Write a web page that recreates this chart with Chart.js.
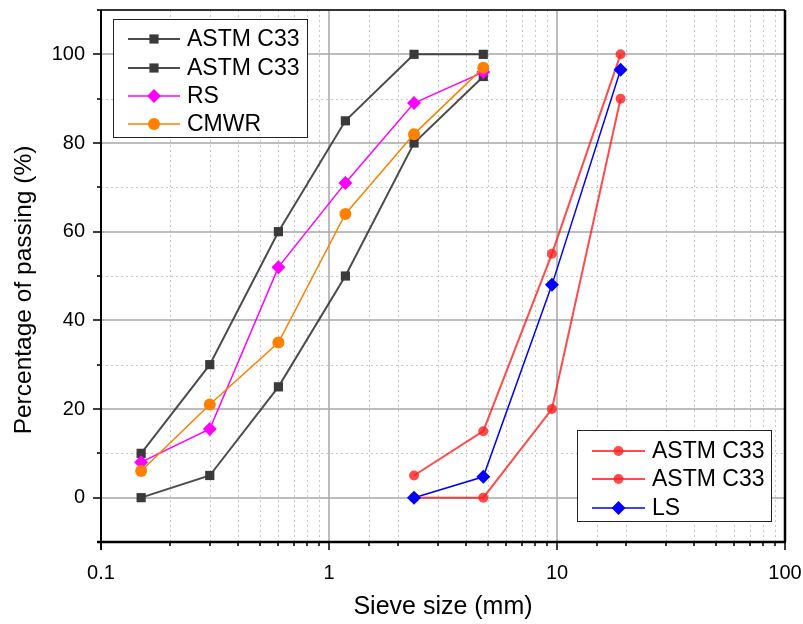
<!DOCTYPE html>
<html>
<head>
<meta charset="utf-8">
<script src="https://cdn.jsdelivr.net/npm/chart.js@4.4.0/dist/chart.umd.min.js"></script>
<style>
  html, body { margin: 0; padding: 0; background: #fff; }
  #wrap { width: 803px; height: 624px; }
</style>
</head>
<body>
<div id="wrap"><canvas id="chart" width="803" height="624"></canvas></div>
<script>
// sieve sizes (mm)
const fineSieves = [0.15, 0.3, 0.6, 1.18, 2.36, 4.75];
const coarseSieves = [2.36, 4.75, 9.5, 19];

// percentage passing
const astmFineUpper = [10, 30, 60, 85, 100, 100];
const astmFineLower = [0, 5, 25, 50, 80, 95];
const rsPassing = [8, 15.5, 52, 71, 89, 96];
const cmwrPassing = [6, 21, 35, 64, 82, 97];
const astmCoarseUpper = [5, 15, 55, 100];
const astmCoarseLower = [0, 0, 20, 90];
const lsPassing = [0, 4.7, 48, 96.5];

const xTickLabels = [0.1, 1, 10, 100];
const yTickLabels = [0, 20, 40, 60, 80, 100];

const FONT = '"Liberation Sans", Arial, sans-serif';
const Y_TITLE = 'Percentage of passing (%)';

function pairs(xs, ys) {
  return xs.map((x, i) => ({ x: x, y: ys[i] }));
}

function isDecade(v) {
  const l = Math.log10(v);
  return Math.abs(l - Math.round(l)) < 1e-6;
}

const gray = 'rgba(45,45,45,0.85)';
const red = 'rgba(255,30,30,0.8)';

const datasets = [
  { label: 'ASTM C33', data: pairs(fineSieves, astmFineUpper), borderColor: gray, backgroundColor: '#3a3a3a',
    pointStyle: 'rect', pointRadius: 6.5, borderWidth: 2 },
  { label: 'ASTM C33', data: pairs(fineSieves, astmFineLower), borderColor: gray, backgroundColor: '#3a3a3a',
    pointStyle: 'rect', pointRadius: 6.5, borderWidth: 2 },
  { label: 'RS', data: pairs(fineSieves, rsPassing), borderColor: '#ff00ff', backgroundColor: '#ff00ff',
    pointStyle: 'rectRot', pointRadius: 7, borderWidth: 1.5 },
  { label: 'CMWR', data: pairs(fineSieves, cmwrPassing), borderColor: '#ff8000', backgroundColor: '#ff8000',
    pointStyle: 'circle', pointRadius: 6, borderWidth: 1.5 },
  { label: 'ASTM C33', data: pairs(coarseSieves, astmCoarseUpper), borderColor: red, backgroundColor: red,
    pointStyle: 'circle', pointRadius: 5, borderWidth: 2 },
  { label: 'ASTM C33', data: pairs(coarseSieves, astmCoarseLower), borderColor: red, backgroundColor: red,
    pointStyle: 'circle', pointRadius: 5, borderWidth: 2 },
  { label: 'LS', data: pairs(coarseSieves, lsPassing), borderColor: '#0000ff', backgroundColor: '#0000ff',
    pointStyle: 'rectRot', pointRadius: 7, borderWidth: 1.5 }
].map((d, i) => Object.assign(d, {
  showLine: true, tension: 0, pointBorderWidth: 0, pointHoverRadius: d.pointRadius, order: -i
}));

const legendBoxes = [
  { items: [0, 1, 2, 3], x: 113, y: 19, w: 194, h: 118, rows: [39, 68, 96, 124], line: [128, 180], textX: 187 },
  { items: [4, 5, 6], x: 577, y: 430, w: 194, h: 91, rows: [451, 479, 508], line: [592, 645], textX: 652 }
];

const framePlugin = {
  id: 'frame',
  beforeDatasetsDraw(chart) {
    const { ctx, chartArea: a, scales: { x, y } } = chart;
    ctx.save();
    // minor grid (dotted)
    ctx.lineWidth = 1;
    ctx.strokeStyle = '#c8c8c8';
    ctx.setLineDash([2, 3]);
    ctx.beginPath();
    x.ticks.forEach(t => {
      if (isDecade(t.value)) return;
      const px = Math.round(x.getPixelForValue(t.value)) + 0.5;
      ctx.moveTo(px, a.top); ctx.lineTo(px, a.bottom);
    });
    y.ticks.forEach(t => {
      if (t.value % 20 === 0 || t.value <= -10 || t.value >= 110) return;
      const py = Math.round(y.getPixelForValue(t.value)) + 0.5;
      ctx.moveTo(a.left, py); ctx.lineTo(a.right, py);
    });
    ctx.stroke();
    // major grid (solid)
    ctx.setLineDash([]);
    ctx.strokeStyle = '#a8a8a8';
    ctx.lineWidth = 1.5;
    ctx.beginPath();
    x.ticks.forEach(t => {
      if (!isDecade(t.value) || t.value <= 0.1 || t.value >= 100) return;
      const px = Math.round(x.getPixelForValue(t.value));
      ctx.moveTo(px, a.top); ctx.lineTo(px, a.bottom);
    });
    y.ticks.forEach(t => {
      if (t.value % 20 !== 0) return;
      const py = Math.round(y.getPixelForValue(t.value));
      ctx.moveTo(a.left, py); ctx.lineTo(a.right, py);
    });
    ctx.stroke();
    ctx.restore();
  },
  afterDraw(chart) {
    const { ctx, chartArea: a, scales: { x, y } } = chart;
    ctx.save();
    // frame
    ctx.strokeStyle = '#333';
    ctx.lineWidth = 2;
    ctx.beginPath();
    ctx.moveTo(a.left - 4, a.top); ctx.lineTo(a.right, a.top);
    ctx.stroke();
    ctx.strokeStyle = '#000';
    ctx.lineWidth = 2.5;
    ctx.beginPath();
    ctx.moveTo(a.right, a.top); ctx.lineTo(a.right, a.bottom);
    ctx.moveTo(a.left - 4, a.bottom); ctx.lineTo(a.right + 1, a.bottom);
    ctx.stroke();
    ctx.lineWidth = 2;
    ctx.beginPath();
    ctx.moveTo(a.left, a.top); ctx.lineTo(a.left, a.bottom + 8);
    ctx.stroke();
    // tick marks
    ctx.lineWidth = 1.5;
    ctx.beginPath();
    x.ticks.forEach(t => {
      const px = Math.round(x.getPixelForValue(t.value));
      const len = isDecade(t.value) ? 8 : 4;
      ctx.moveTo(px, a.bottom); ctx.lineTo(px, a.bottom + len);
    });
    y.ticks.forEach(t => {
      if (t.value < 0 || t.value > 100) return;
      const py = Math.round(y.getPixelForValue(t.value));
      const len = t.value % 20 === 0 ? 8 : 4;
      ctx.moveTo(a.left, py); ctx.lineTo(a.left - len, py);
    });
    ctx.stroke();

    // y axis title (Origin puts it a bit below the centre of the axis)
    ctx.save();
    ctx.translate(31, 290);
    ctx.rotate(-Math.PI / 2);
    ctx.fillStyle = '#000';
    ctx.font = '24.5px ' + FONT;
    ctx.textAlign = 'center';
    ctx.textBaseline = 'alphabetic';
    ctx.fillText(Y_TITLE, 0, 0);
    ctx.restore();

    // legends
    legendBoxes.forEach(box => {
      ctx.fillStyle = '#fff';
      ctx.fillRect(box.x, box.y, box.w, box.h);
      ctx.strokeStyle = '#222';
      ctx.lineWidth = 1;
      ctx.strokeRect(box.x + 0.5, box.y + 0.5, box.w, box.h);
      box.items.forEach((di, r) => {
        const ds = chart.data.datasets[di];
        const cy = box.rows[r];
        ctx.strokeStyle = ds.borderColor;
        ctx.lineWidth = ds.borderWidth;
        ctx.beginPath();
        ctx.moveTo(box.line[0], cy); ctx.lineTo(box.line[1], cy);
        ctx.stroke();
        ctx.fillStyle = ds.backgroundColor;
        Chart.helpers.drawPoint(ctx, { pointStyle: ds.pointStyle, radius: ds.pointRadius, rotation: 0, borderWidth: 0 },
          (box.line[0] + box.line[1]) / 2, cy);
        ctx.fillStyle = '#000';
        ctx.font = '23px ' + FONT;
        ctx.textBaseline = 'middle';
        ctx.textAlign = 'left';
        ctx.fillText(ds.label, box.textX, cy + 1);
      });
    });
    ctx.restore();
  }
};

new Chart(document.getElementById('chart'), {
  type: 'scatter',
  data: { datasets: datasets },
  options: {
    responsive: false,
    animation: false,
    events: [],
    layout: { padding: { left: 0, top: 10, right: 18, bottom: 0 } },
    plugins: { legend: { display: false }, tooltip: { enabled: false } },
    scales: {
      x: {
        type: 'logarithmic',
        min: 0.1,
        max: 100,
        afterFit: s => { s.height = 82; s.paddingLeft = 0; s.paddingRight = 0; },
        grid: { display: false, drawTicks: false },
        border: { display: false },
        ticks: {
          autoSkip: false,
          maxRotation: 0,
          padding: 19,
          color: '#000',
          font: { family: FONT, size: 20 },
          callback: v => (xTickLabels.some(t => Math.abs(t - v) < 1e-9) ? String(v) : '')
        },
        title: { display: true, text: 'Sieve size (mm)', color: '#000', font: { family: FONT, size: 25 },
          padding: { top: 4, bottom: 2 } }
      },
      y: {
        min: -10,
        max: 110,
        afterFit: s => { s.width = 101; s.paddingTop = 0; s.paddingBottom = 0; },
        grid: { display: false, drawTicks: false },
        border: { display: false },
        ticks: {
          stepSize: 10,
          autoSkip: false,
          padding: 16,
          color: '#000',
          font: { family: FONT, size: 20 },
          callback: v => (yTickLabels.includes(v) ? String(v) : '')
        },
        title: { display: false }
      }
    }
  },
  plugins: [framePlugin]
});
</script>
</body>
</html>
